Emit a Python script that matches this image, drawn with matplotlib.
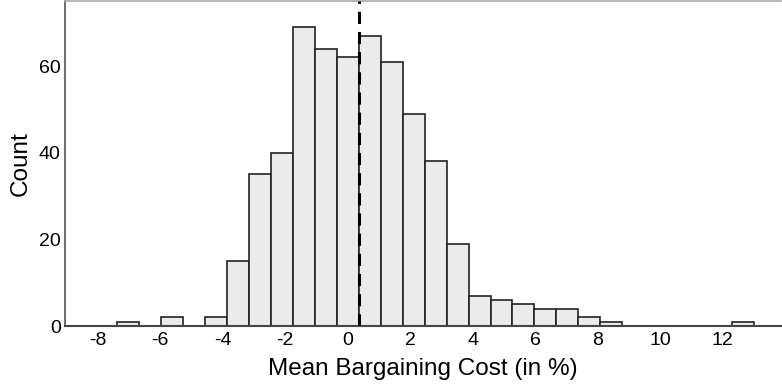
import matplotlib
matplotlib.use("Agg")
import matplotlib.pyplot as plt
import numpy as np

plt.rcParams['font.family'] = ['Liberation Sans', 'DejaVu Sans']

# Data
bin_left = -7.37
bin_width = 0.7025
counts = [1, 0, 2, 0, 2, 15, 35, 40, 69, 64, 62, 67, 61, 49, 38, 19,
          7, 6, 5, 4, 4, 2, 1, 0, 0, 0, 0, 0, 1]
mean_value = 0.355
x_ticks = [-8, -6, -4, -2, 0, 2, 4, 6, 8, 10, 12]
y_ticks = [0, 20, 40, 60]

edges = bin_left + bin_width * np.arange(len(counts) + 1)

fig = plt.figure(figsize=(7.82, 3.91), dpi=100)
ax = fig.add_axes([0.0831, 0.1662, 0.9156, 0.8312])

ax.bar(edges[:-1], counts, width=bin_width, align='edge',
       color='#ebebeb', edgecolor='#222222', linewidth=1.2, zorder=2)
ax.axvline(mean_value, color='black', linewidth=2.2,
           linestyle=(0, (4, 2.6)), zorder=3)

ax.set_xlim(-9.05, 13.87)
ax.set_ylim(0, 75)
ax.set_xticks(x_ticks)
ax.set_xticklabels([str(t) for t in x_ticks])
ax.set_yticks(y_ticks)
ax.tick_params(axis='both', length=0, labelsize=14, colors='black')
ax.tick_params(axis='x', pad=4)
ax.tick_params(axis='y', pad=3)

ax.set_xlabel('Mean Bargaining Cost (in %)', fontsize=17.5, labelpad=7)
ax.set_ylabel('Count', fontsize=17.5, labelpad=5)

ax.spines['right'].set_visible(False)
ax.spines['top'].set_color('#aaaaaa')
ax.spines['top'].set_linewidth(1.2)
ax.spines['left'].set_color('#555555')
ax.spines['left'].set_linewidth(1.2)
ax.spines['bottom'].set_color('#444444')
ax.spines['bottom'].set_linewidth(1.5)

fig.savefig('out.png', dpi=100)
